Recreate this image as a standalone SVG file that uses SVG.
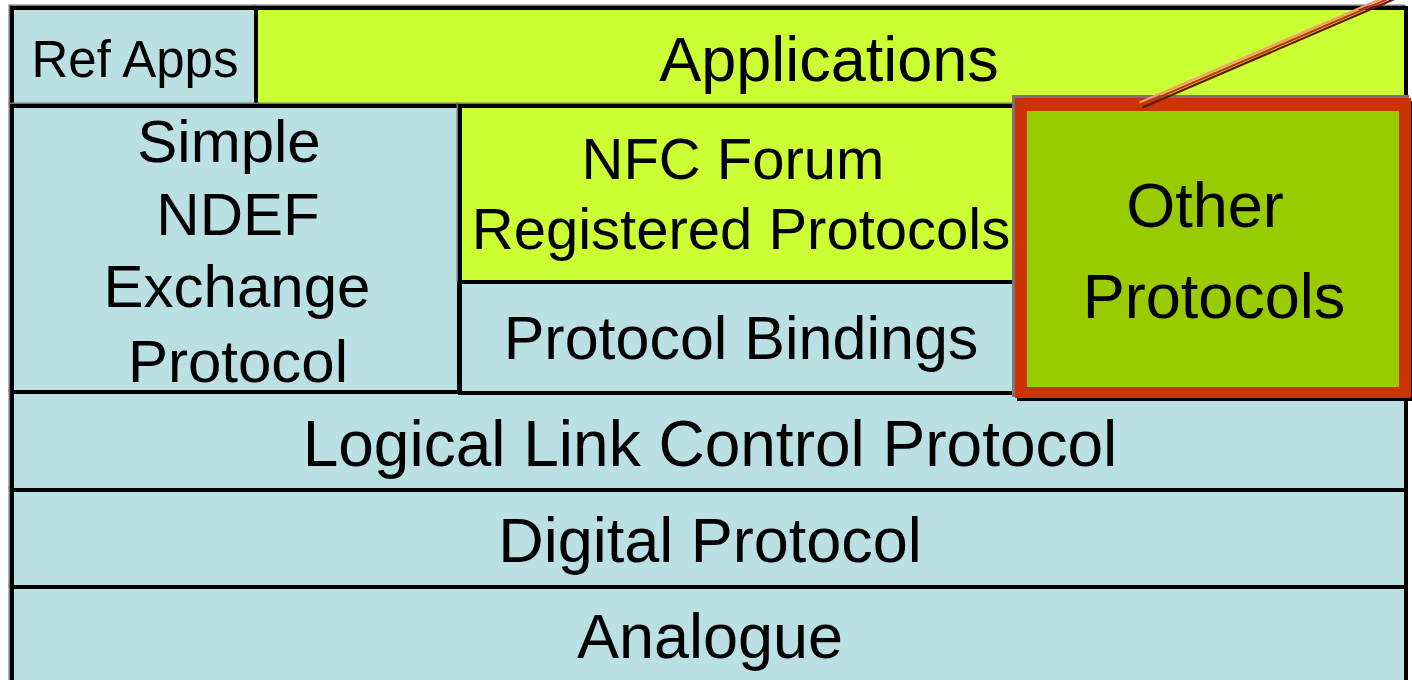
<svg xmlns="http://www.w3.org/2000/svg" width="1412" height="680" viewBox="0 0 1412 680">
  <style>
    .sh { fill: none; stroke: #777777; stroke-width: 3; }
    .box { stroke: #000000; stroke-width: 4; }
    .blue { fill: #BAE0E4; }
    .lime { fill: #CCFF33; }
    .t { font-family: "Liberation Sans", Arial, sans-serif; fill: #000000; text-anchor: middle; }
  </style>
  <rect x="0" y="0" width="1412" height="680" fill="#FFFFFF"/>

  <g id="analogue">
    <rect class="sh" x="10" y="585" width="1394" height="110"/>
    <rect class="box blue" x="12" y="587" width="1394" height="110"/>
    <text class="t" x="710" y="658" font-size="63">Analogue</text>
  </g>
  <g id="digital-protocol">
    <rect class="sh" x="10" y="488" width="1394" height="97"/>
    <rect class="box blue" x="12" y="490" width="1394" height="97"/>
    <text class="t" x="710" y="562" font-size="63">Digital Protocol</text>
  </g>
  <g id="llcp">
    <rect class="sh" x="10" y="390" width="1394" height="98"/>
    <rect class="box blue" x="12" y="392" width="1394" height="98"/>
    <text class="t" x="710" y="466" font-size="64">Logical Link Control Protocol</text>
  </g>
  <g id="applications">
    <rect class="sh" x="254" y="6" width="1150" height="98"/>
    <rect class="box lime" x="256" y="8" width="1150" height="98"/>
    <text class="t" x="829" y="81" font-size="63">Applications</text>
  </g>
  <g id="ref-apps">
    <rect class="sh" x="10" y="6" width="244" height="98"/>
    <rect class="box blue" x="12" y="8" width="244" height="98"/>
    <text class="t" x="135" y="77" font-size="51">Ref Apps</text>
  </g>
  <g id="simple-ndef">
    <rect class="sh" x="10" y="104" width="447" height="286"/>
    <rect class="box blue" x="12" y="106" width="447" height="286"/>
    <text class="t" x="229" y="162" font-size="60">Simple</text>
    <text class="t" x="238" y="235" font-size="60">NDEF</text>
    <text class="t" x="237" y="307" font-size="60">Exchange</text>
    <text class="t" x="238" y="382" font-size="60">Protocol</text>
  </g>
  <g id="nfc-forum">
    <rect class="sh" x="458" y="104" width="555" height="176"/>
    <rect class="box lime" x="460" y="106" width="555" height="176"/>
    <text class="t" x="733" y="179" font-size="58">NFC Forum</text>
    <text class="t" x="741" y="249" font-size="58">Registered Protocols</text>
  </g>
  <g id="protocol-bindings">
    <rect class="box blue" x="460" y="282" width="555" height="111"/>
    <text class="t" x="741" y="359" font-size="61">Protocol Bindings</text>
  </g>
  <g id="other-protocols">
    <rect x="1012" y="95" width="397" height="302" fill="#777777"/>
    <rect x="1017" y="101" width="396" height="300" fill="#000000"/>
    <rect x="1015" y="98" width="396" height="300" fill="#CC3300"/>
    <rect x="1027" y="111" width="372" height="276" fill="#99CC00"/>
    <text class="t" x="1205" y="227" font-size="63">Other</text>
    <text class="t" x="1214" y="318" font-size="63">Protocols</text>
  </g>

  <g id="connectors">
    <line x1="1139.5" y1="102.5" x2="1396" y2="-7.5" stroke="#EE9C78" stroke-width="2.2"/>
    <line x1="1141" y1="105" x2="1397" y2="-5" stroke="#CC3300" stroke-width="2.2"/>
    <line x1="1142.5" y1="107.5" x2="1398" y2="-2.5" stroke="#5A1A00" stroke-width="2.2"/>
  </g>
</svg>
